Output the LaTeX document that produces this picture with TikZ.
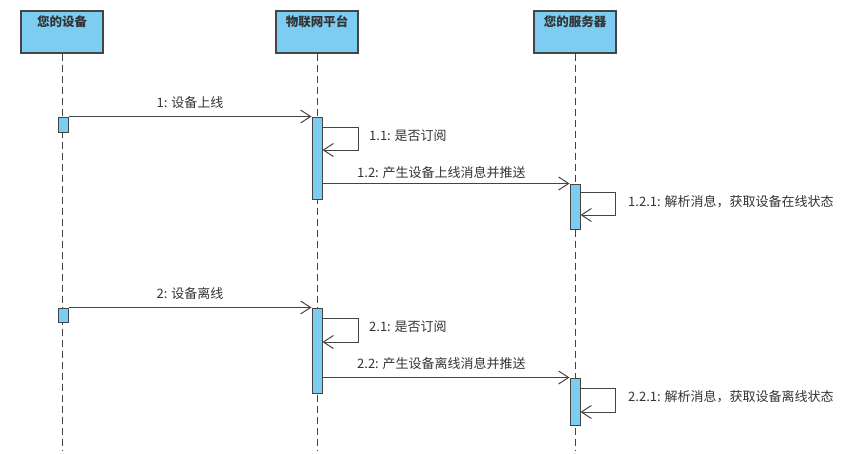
\documentclass[tikz,border=0pt]{standalone}
\usepackage{fontspec}
\setmainfont{Noto Sans CJK SC}
\usetikzlibrary{arrows.meta}
\definecolor{lifeblue}{HTML}{7DCCF2}
\definecolor{linegray}{HTML}{444444}
\definecolor{txtgray}{HTML}{333333}
\tikzset{
  head/.style={draw=linegray, fill=lifeblue, line width=1.2pt, minimum width=82pt, minimum height=42pt, inner sep=0pt},
  headtxt/.style={anchor=north, text=txtgray, font=\fontsize{12.5}{14}\selectfont\bfseries, inner sep=0pt},
  lifeline/.style={draw=linegray, line width=1pt, dash pattern=on 7pt off 4pt},
  act/.style={draw=linegray, fill=lifeblue, line width=1pt, minimum width=10pt, inner sep=0pt},
  msg/.style={draw=linegray, line width=1pt, -{Straight Barb[length=10pt,width=13pt,line width=1pt]}},
  lbl/.style={text=txtgray, font=\fontsize{13}{15}\selectfont, inner sep=0pt},
}
\begin{document}
\begin{tikzpicture}[x=1pt,y=-1pt]
\useasboundingbox (0,0) rectangle (859,453);
% heads
\node[head] (hd) at (62,32) {};
\node[head] (hp) at (317,32) {};
\node[head] (hs) at (575,32) {};
\node[headtxt] (hdt) at ([yshift=-5pt]hd.north) {您的设备};
\node[headtxt] (hpt) at ([yshift=-5pt]hp.north) {物联网平台};
\node[headtxt] (hst) at ([yshift=-5pt]hs.north) {您的服务器};
% lifeline ends
\coordinate (ed) at (62,451);
\coordinate (ep) at (317,451);
\coordinate (es) at (575,451);
\draw[lifeline] (hd.south) -- (ed);
\draw[lifeline] (hp.south) -- (ep);
\draw[lifeline] (hs.south) -- (es);
% activations
\node[act, minimum height=15pt] (da1) at (63,124.5) {};
\node[act, minimum height=82pt] (pa1) at (317,158) {};
\node[act, minimum height=45pt] (sa1) at (575,206.5) {};
\node[act, minimum height=14pt] (da2) at (63,315) {};
\node[act, minimum height=85pt] (pa2) at (317,350.5) {};
\node[act, minimum height=47pt] (sa2) at (575,401.5) {};
% self-message corners
\coordinate (s11a) at (358,127);
\coordinate (s11b) at (358,150);
\coordinate (s121a) at (615,192);
\coordinate (s121b) at (615,215);
\coordinate (s21a) at (358,318);
\coordinate (s21b) at (358,342);
\coordinate (s221a) at (615,388);
\coordinate (s221b) at (615,412);
% messages round 1
\draw[msg] (da1.north east) -- (pa1.north west);
\draw[msg] (pa1.east |- s11a) -- (s11a) -- (s11b) -- (pa1.east |- s11b);
\draw[msg] (pa1.east |- sa1.north) -- (sa1.north west);
\draw[msg] (sa1.east |- s121a) -- (s121a) -- (s121b) -- (sa1.east |- s121b);
% messages round 2
\draw[msg] (da2.north east) -- (pa2.north west);
\draw[msg] (pa2.east |- s21a) -- (s21a) -- (s21b) -- (pa2.east |- s21b);
\draw[msg] (pa2.east |- sa2.north) -- (sa2.north west);
\draw[msg] (sa2.east |- s221a) -- (s221a) -- (s221b) -- (sa2.east |- s221b);
% labels
\node[lbl] (l1) at (190,103) {1: 设备上线};
\node[lbl, anchor=west] (l11) at (369,136) {1.1: 是否订阅};
\node[lbl, anchor=west] (l12) at (357,173) {1.2: 产生设备上线消息并推送};
\node[lbl, anchor=west] (l121) at (628,202) {1.2.1: 解析消息，获取设备在线状态};
\node[lbl] (l2) at (190,294) {2: 设备离线};
\node[lbl, anchor=west] (l21) at (369,327) {2.1: 是否订阅};
\node[lbl, anchor=west] (l22) at (357,364) {2.2: 产生设备离线消息并推送};
\node[lbl, anchor=west] (l221) at (628,397) {2.2.1: 解析消息，获取设备离线状态};
\end{tikzpicture}
\end{document}
